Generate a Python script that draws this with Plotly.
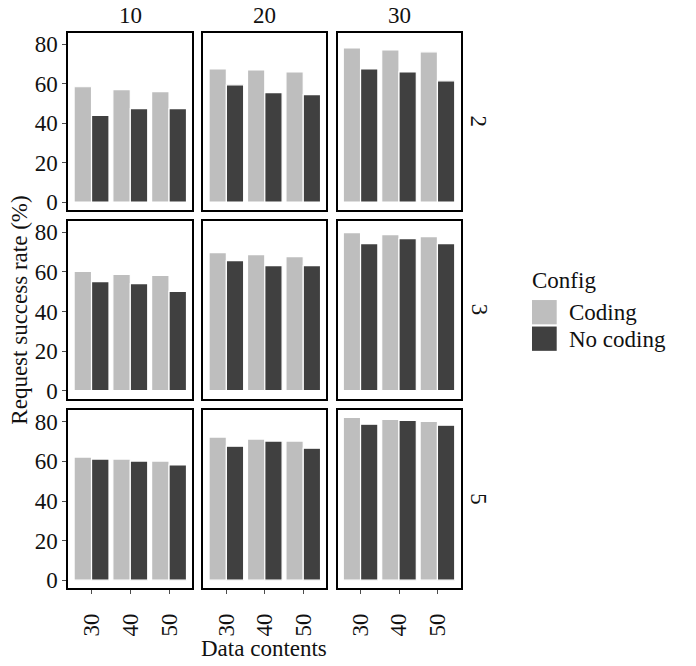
import plotly.graph_objects as go

# ---------------- data ----------------
contents = ["30", "40", "50"]          # x categories (Data contents)
col_labels = ["10", "20", "30"]        # column facets
row_labels = ["2", "3", "5"]           # row facets
series_names = ["Coding", "No coding"]

# success rate (%) per [row][col] -> values for contents 30, 40, 50
coding_rate = [
    [[58.5, 57.0, 56.0], [67.5, 67.0, 66.0], [78.2, 77.2, 76.2]],
    [[60.3, 58.7, 58.2], [69.7, 68.7, 67.7], [79.8, 78.8, 77.8]],
    [[62.2, 61.2, 60.2], [72.3, 71.3, 70.3], [82.3, 81.3, 80.3]],
]
nocoding_rate = [
    [[43.9, 47.4, 47.4], [59.5, 55.5, 54.5], [67.5, 66.0, 61.5]],
    [[55.1, 54.1, 50.1], [65.7, 63.2, 63.2], [74.3, 76.8, 74.3]],
    [[61.2, 60.2, 58.2], [67.7, 70.3, 66.7], [78.8, 80.8, 78.3]],
]
y_ticks = [0, 20, 40, 60, 80]

# ---------------- styling ----------------
W, H = 696, 666
FONT = "Liberation Serif"
FS = 23
TXT = "#111111"
c_coding = "#bebebe"
c_nocoding = "#404040"
cols_px = [(68.3, 192.3), (203.3, 326.3), (337.5, 460.5)]
rows_px = [(33.0, 211.7), (222.3, 401.7), (413.3, 592.7)]

def xd(a, b):
    return [a / W, b / W]

def yd(top, bottom):
    return [1 - bottom / H, 1 - top / H]

fig = go.Figure()
layout = {}
for r in range(3):
    for c in range(3):
        k = r * 3 + c + 1
        sx = "" if k == 1 else str(k)
        fig.add_trace(go.Bar(
            x=contents, y=coding_rate[r][c], name=series_names[0],
            marker=dict(color=c_coding, line=dict(color="white", width=1.2)),
            xaxis="x" + sx, yaxis="y" + sx, showlegend=False))
        fig.add_trace(go.Bar(
            x=contents, y=nocoding_rate[r][c], name=series_names[1],
            marker=dict(color=c_nocoding, line=dict(color="white", width=1.2)),
            xaxis="x" + sx, yaxis="y" + sx, showlegend=False))
        layout["xaxis" + sx] = dict(
            domain=xd(*cols_px[c]), anchor="y" + sx, type="category",
            range=[-0.6, 2.6], showgrid=False, zeroline=False,
            showline=True, mirror=True, linecolor="black", linewidth=2,
            ticks="outside" if r == 2 else "", ticklen=4, tickcolor="#4d4d4d",
            tickwidth=1, showticklabels=(r == 2), tickangle=-90,
            ticklabelstandoff=10,
            tickfont=dict(family=FONT, size=FS, color=TXT))
        layout["yaxis" + sx] = dict(
            domain=yd(*rows_px[r]), anchor="x" + sx,
            range=[-4.1, 85.9], showgrid=False, zeroline=False,
            showline=True, mirror=True, linecolor="black", linewidth=2,
            tickvals=y_ticks, ticks="outside" if c == 0 else "", ticklen=4,
            tickcolor="#4d4d4d", tickwidth=1, showticklabels=(c == 0),
            tickfont=dict(family=FONT, size=FS, color=TXT))

def ann(text, x, y, xanchor="center", yanchor="middle", angle=0):
    return dict(text=text, x=x / W, y=1 - y / H, xref="paper", yref="paper",
                xanchor=xanchor, yanchor=yanchor, showarrow=False,
                textangle=angle, font=dict(family=FONT, size=FS, color=TXT))

annotations = []
for c, lab in enumerate(col_labels):
    annotations.append(ann(lab, (cols_px[c][0] + cols_px[c][1]) / 2, 15.5))
for r, lab in enumerate(row_labels):
    annotations.append(ann(lab, 479, (rows_px[r][0] + rows_px[r][1]) / 2, angle=90))
annotations.append(ann("Request success rate (%)", 20, 313, angle=-90))
annotations.append(ann("Data contents", 264, 653))
annotations.append(ann("Config", 530, 283, xanchor="left"))
shapes = []
for i, (name, col) in enumerate(zip(series_names, [c_coding, c_nocoding])):
    top = 302.3 + i * 26.7
    shapes.append(dict(type="rect", xref="paper", yref="paper",
                       x0=532 / W, x1=556.7 / W, y0=1 - (top + 24.5) / H, y1=1 - top / H,
                       fillcolor=col, line=dict(width=0)))
    annotations.append(ann(name, 567, top + 13, xanchor="left"))

fig.update_layout(
    width=W, height=H, margin=dict(l=0, r=0, t=0, b=0),
    paper_bgcolor="white", plot_bgcolor="white",
    barmode="group", bargap=0.1, bargroupgap=0,
    annotations=annotations, shapes=shapes, showlegend=False,
    **layout)

fig.write_html("out.html")
